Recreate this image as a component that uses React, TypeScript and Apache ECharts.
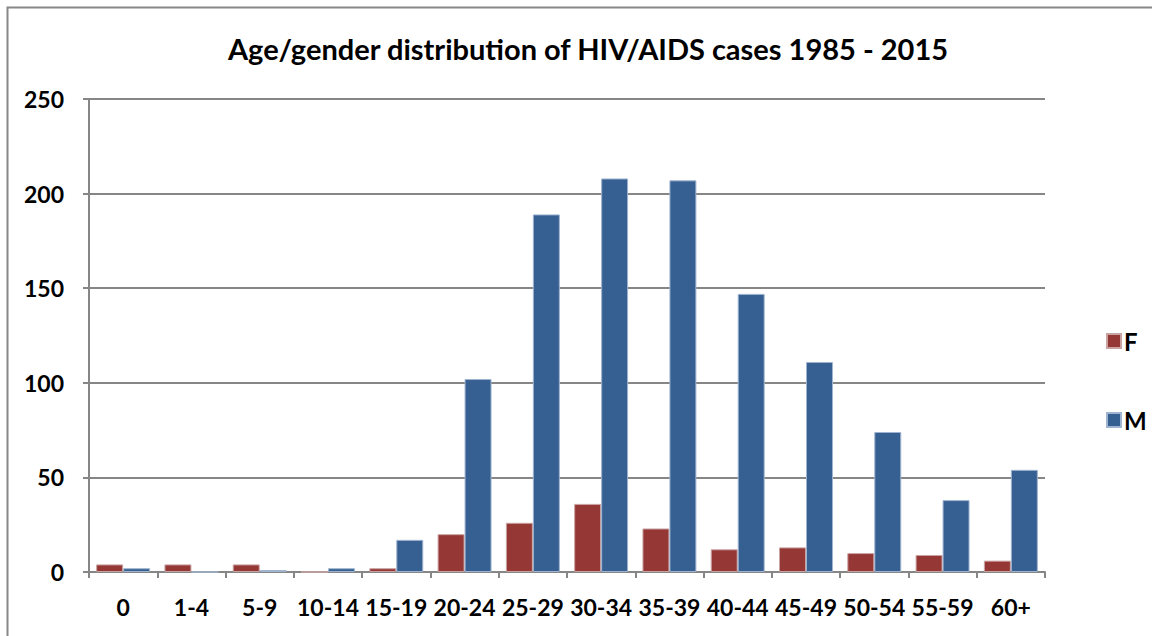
import React, { useEffect, useRef } from "react";
import * as echarts from "echarts";

const categories = ["0", "1-4", "5-9", "10-14", "15-19", "20-24", "25-29", "30-34", "35-39", "40-44", "45-49", "50-54", "55-59", "60+"];
const femaleValues = [4, 4, 4, 0, 2, 20, 26, 36, 23, 12, 13, 10, 9, 6];
const maleValues = [2, 0, 1, 2, 17, 102, 189, 208, 207, 147, 111, 74, 38, 54];
const titleText = "Age/gender distribution of HIV/AIDS cases 1985 - 2015";

const FONT = "Lato, 'Open Sans', 'Liberation Sans', sans-serif";

export default function App() {
  const ref = useRef<HTMLDivElement>(null);
  useEffect(() => {
    document.body.style.margin = "0";
    const chart = echarts.init(ref.current!, null, { renderer: "svg" });
    chart.setOption({
      animation: false,
      backgroundColor: "#ffffff",
      title: {
        text: titleText,
        left: 583,
        textAlign: "center",
        top: 29,
        textStyle: { fontFamily: FONT, fontWeight: "bold", fontSize: 29, color: "#000" },
      },
      legend: {
        orient: "vertical",
        left: 1101,
        top: 324,
        itemGap: 55,
        itemWidth: 14,
        itemHeight: 14,
        icon: "rect",
        textStyle: { fontFamily: FONT, fontWeight: "bold", fontSize: 24, color: "#000", padding: [0, 0, 0, -2] },
        data: ["F", "M"],
      },
      grid: { left: 89, right: 107, top: 99, bottom: 64, containLabel: false },
      xAxis: {
        type: "category",
        data: categories,
        axisLine: { lineStyle: { color: "#868686", width: 2 } },
        axisTick: { show: true, length: 6, lineStyle: { color: "#868686", width: 2 } },
        axisLabel: { fontFamily: FONT, fontWeight: "bold", fontSize: 23, color: "#000", margin: 23, interval: 0 },
      },
      yAxis: {
        type: "value",
        min: 0,
        max: 250,
        interval: 50,
        axisLine: { show: true, lineStyle: { color: "#868686", width: 2 } },
        axisTick: { show: true, length: 6, lineStyle: { color: "#868686", width: 2 } },
        splitLine: { lineStyle: { color: "#868686", width: 2 } },
        axisLabel: { fontFamily: FONT, fontWeight: "bold", fontSize: 23, color: "#000", margin: 25 },
      },
      series: [
        {
          name: "F",
          type: "bar",
          data: femaleValues,
          barGap: "0%",
          barCategoryGap: "21%",
          itemStyle: { color: "#953735", borderColor: "#c9a3a2", borderWidth: 1 },
        },
        {
          name: "M",
          type: "bar",
          data: maleValues,
          barGap: "0%",
          barCategoryGap: "21%",
          itemStyle: { color: "#376092", borderColor: "#9fb4cf", borderWidth: 1 },
        },
      ],
      graphic: [
        {
          type: "rect",
          shape: { x: 7.5, y: 7.5, width: 1200, height: 700 },
          style: { fill: "none", stroke: "#888888", lineWidth: 2 },
          silent: true,
        },
      ],
    });
    return () => chart.dispose();
  }, []);
  return <div ref={ref} style={{ width: 1152, height: 636 }} />;
}
